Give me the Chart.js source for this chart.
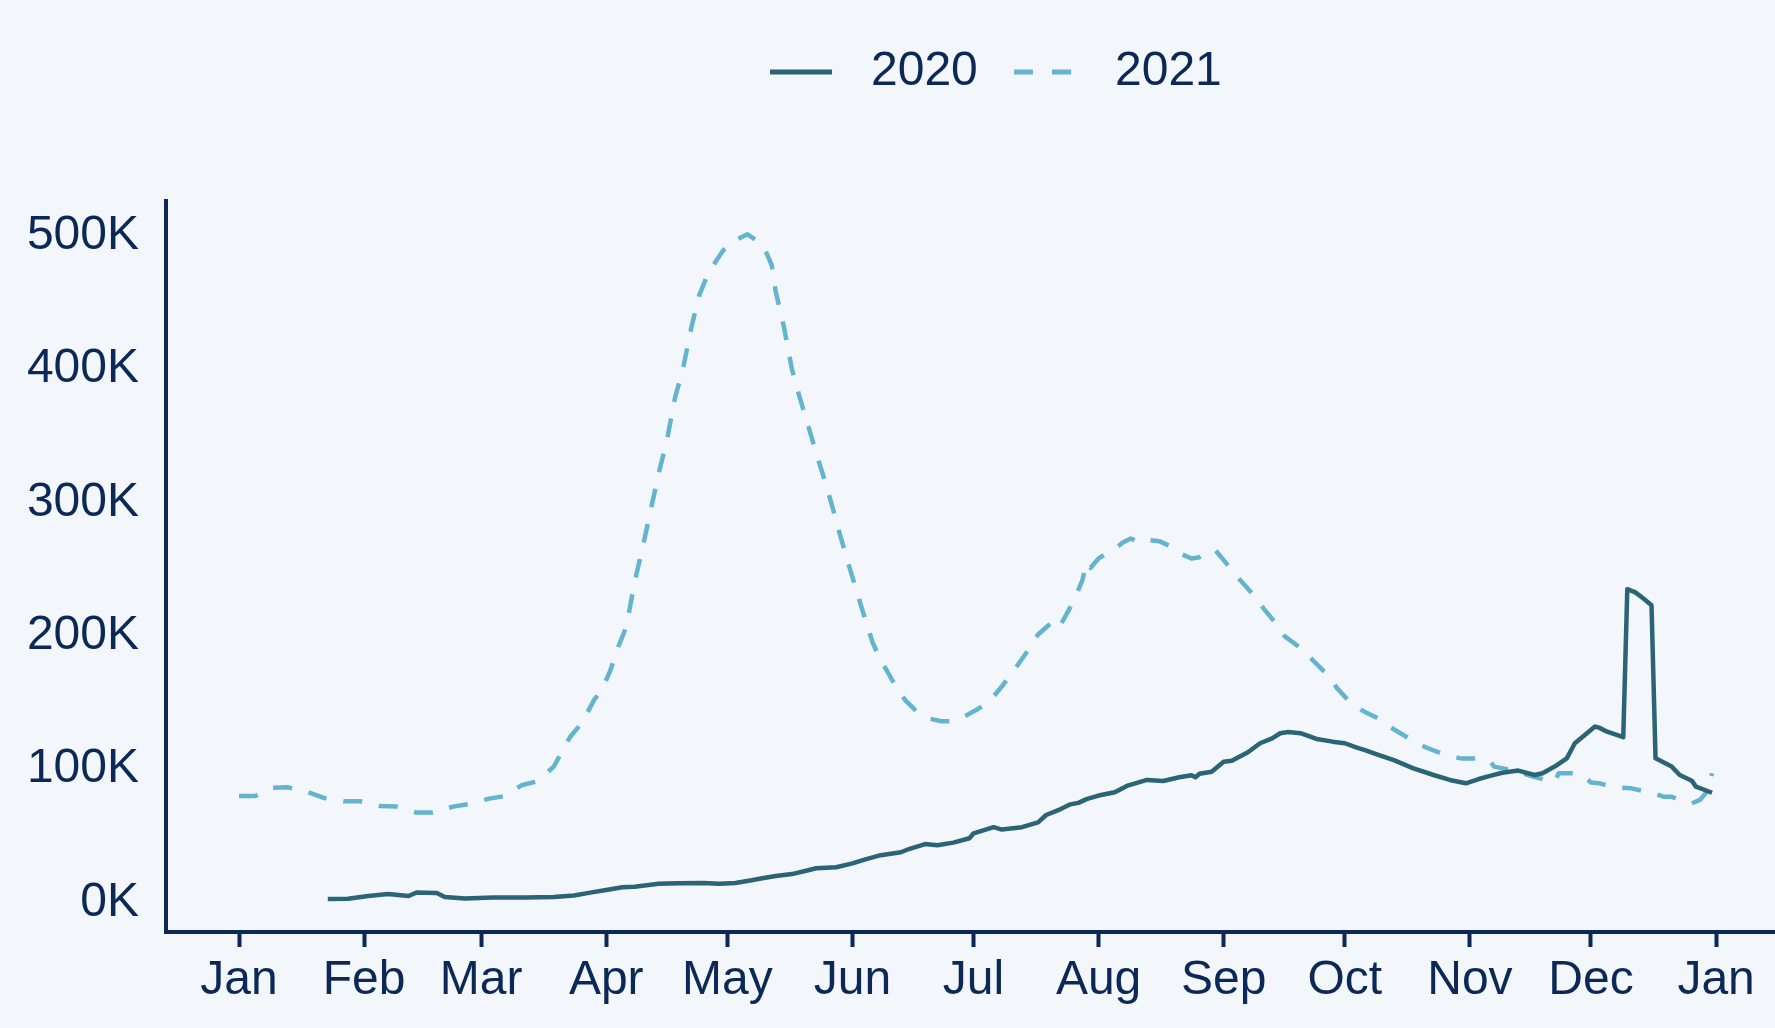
<!DOCTYPE html>
<html>
<head>
<meta charset="utf-8">
<script src="https://cdn.jsdelivr.net/npm/chart.js@4/dist/chart.umd.min.js"></script>
<style>
  html, body { margin: 0; padding: 0; background: #f3f7fc; }
  #wrap { width: 1775px; height: 1028px; }
  canvas { display: block; }
</style>
</head>
<body>
<div id="wrap"><canvas id="c" width="1775" height="1028"></canvas></div>
<script>
// ---- data (day of year, value) ----
const monthTickDays = [0, 31, 60, 91, 121, 152, 182, 213, 244, 274, 305, 335, 366];
const monthTickLabels = ['Jan', 'Feb', 'Mar', 'Apr', 'May', 'Jun', 'Jul', 'Aug', 'Sep', 'Oct', 'Nov', 'Dec', 'Jan'];
const yTickValues = [0, 100000, 200000, 300000, 400000, 500000];
const seriesLabels = ['2020', '2021'];

const days2020 = [22, 27, 32, 37, 42, 44, 49, 51, 56, 63, 71, 78, 83, 87, 91, 95, 98, 104, 109, 115, 119, 123, 127, 130, 133, 137, 140, 143, 148, 152, 155, 159, 164, 166, 170, 173, 177, 181, 182, 187, 189, 194, 198, 200, 203, 206, 208, 210, 213, 217, 220, 225, 229, 233, 236, 237, 238, 241, 244, 246, 250, 253, 256, 258, 260, 263, 267, 271, 274, 277, 279, 283, 286, 291, 296, 300, 304, 307, 310, 313, 317, 321, 323, 326, 329, 331, 334, 336, 337, 339, 343, 344, 346, 348, 350, 351, 355, 357, 360, 361, 365];
const cases2020 = [800, 1000, 3000, 4500, 3000, 5600, 5300, 2300, 1200, 1800, 1800, 2300, 3400, 5500, 7500, 9500, 10000, 12200, 12500, 12800, 12100, 12800, 14800, 16500, 18000, 19400, 21500, 23800, 24500, 27400, 30300, 33600, 35800, 38200, 41900, 41000, 43000, 46300, 49900, 54600, 52800, 54600, 58200, 63700, 67300, 71700, 72800, 75600, 78300, 80800, 85500, 90000, 89200, 92000, 93500, 92000, 94600, 96200, 103700, 104400, 110700, 117500, 121200, 125000, 126000, 125000, 120700, 118700, 117500, 114200, 112400, 108000, 105000, 98700, 93700, 90000, 87500, 90500, 93000, 95400, 97000, 93700, 95000, 100000, 106200, 117500, 125000, 130000, 129200, 126200, 122000, 233000, 230600, 226000, 221000, 106200, 100000, 93700, 89400, 85000, 80400];

const days2021 = [0, 4, 8, 12, 17, 21, 26, 30, 35, 39, 44, 48, 53, 57, 62, 66, 70, 74, 78, 82, 85, 88, 90, 92, 94, 96, 98, 100, 102, 104, 106, 108, 110, 112, 114, 116, 118, 120, 122, 124, 126, 128, 130, 132, 133, 135, 137, 139, 141, 143, 145, 147, 149, 151, 153, 155, 157, 159, 162, 165, 168, 171, 174, 177, 180, 183, 186, 189, 192, 195, 198, 201, 203, 205, 207, 209, 210, 211, 213, 215, 217, 219, 221, 223, 225, 228, 231, 233, 236, 238, 240, 242, 245, 248, 251, 254, 257, 259, 263, 266, 270, 272, 276, 279, 283, 285, 290, 294, 299, 303, 307, 310, 311, 316, 320, 325, 326, 327, 330, 333, 335, 337, 341, 345, 350, 353, 355, 358, 360, 362, 364, 365];
const cases2021 = [78000, 78000, 84000, 84500, 81000, 76500, 74000, 74000, 70500, 70000, 65500, 65500, 70000, 72000, 76000, 78000, 86000, 89000, 100000, 122000, 133000, 150000, 158000, 172000, 190000, 205000, 238000, 264000, 292000, 320000, 344000, 376000, 398000, 428000, 453000, 468000, 478000, 487000, 493000, 496000, 499000, 495000, 490000, 476000, 456000, 430000, 398000, 376000, 356000, 335000, 316000, 295000, 273000, 252000, 232000, 212000, 193000, 180000, 164000, 150000, 141000, 136000, 134000, 134000, 138000, 143000, 149000, 160000, 172000, 185000, 199000, 207000, 203000, 214000, 225000, 240000, 253000, 249000, 256000, 260000, 263000, 268000, 271000, 268000, 270000, 269000, 265000, 260000, 256000, 257000, 261000, 262000, 251000, 240000, 230000, 218000, 207000, 198000, 189000, 180000, 168000, 159000, 146000, 141000, 135000, 130000, 121000, 114500, 108700, 106000, 106000, 104000, 100000, 97000, 93000, 89000, 88500, 95000, 95000, 93500, 88000, 87500, 84500, 83700, 80400, 77400, 77400, 73700, 72500, 75000, 82000, 95000];

// ---- styling ----
const NAVY = '#0b2856';
const C2020 = '#2a6476';
const C2021 = '#64b4d0';
const FONT = "'Liberation Sans', Arial, Helvetica, sans-serif";
const FONT_SIZE = 48;
const LEGEND_BOX = 77;

const toPoints = (xs, ys) => xs.map((x, i) => ({ x: x, y: ys[i] }));

// legend sample: line drawn in the left part of a wider key box
function legendKey(color, dash, len) {
  const c = document.createElement('canvas');
  c.width = LEGEND_BOX; c.height = 10;
  const g = c.getContext('2d');
  g.strokeStyle = color;
  g.lineWidth = 5;
  g.setLineDash(dash);
  g.beginPath();
  g.moveTo(0, 5);
  g.lineTo(len, 5);
  g.stroke();
  return c;
}

const legendShift = {
  id: 'legendShift',
  afterLayout(chart) {
    const l = chart.legend;
    if (!l) return;
    const dx = 25.4, dy = -95;
    l.left += dx; l.right += dx; l.top += dy; l.bottom += dy;
  }
};

new Chart(document.getElementById('c'), {
  type: 'line',
  data: {
    datasets: [
      {
        label: seriesLabels[0],
        data: toPoints(days2020, cases2020),
        borderColor: C2020,
        backgroundColor: C2020,
        borderWidth: 4.5,
        pointRadius: 0,
        tension: 0,
        borderJoinStyle: 'round',
        fill: false
      },
      {
        label: seriesLabels[1],
        data: toPoints(days2021, cases2021),
        borderColor: C2021,
        backgroundColor: C2021,
        borderWidth: 4.5,
        borderDash: [19, 17],
        pointRadius: 0,
        tension: 0,
        borderJoinStyle: 'round',
        fill: false
      }
    ]
  },
  options: {
    responsive: false,
    animation: false,
    events: [],
    layout: { padding: { top: 106.8, left: 0, right: 0, bottom: 0 } },
    plugins: {
      tooltip: { enabled: false },
      legend: {
        position: 'top',
        fullSize: false,
        labels: {
          font: { family: FONT, size: FONT_SIZE },
          color: NAVY,
          usePointStyle: true,
          pointStyleWidth: LEGEND_BOX,
          padding: 36.2,
          generateLabels(chart) {
            const items = Chart.defaults.plugins.legend.labels.generateLabels(chart);
            items.forEach(it => {
              const ds = chart.data.datasets[it.datasetIndex];
              const dashed = !!(ds.borderDash && ds.borderDash.length);
              it.pointStyle = dashed ? legendKey(ds.borderColor, [19, 19], 57) : legendKey(ds.borderColor, [], 62);
              it.fontColor = NAVY;
            });
            return items;
          }
        }
      }
    },
    scales: {
      x: {
        type: 'linear',
        min: -18.09,
        max: 380.6,
        afterBuildTicks(scale) {
          scale.ticks = monthTickDays.map(v => ({ value: v }));
        },
        afterFit(scale) { scale.height = 96; },
        ticks: {
          autoSkip: false,
          maxRotation: 0,
          minRotation: 0,
          padding: 5,
          color: NAVY,
          font: { family: FONT, size: FONT_SIZE },
          callback(value, index) { return monthTickLabels[index]; }
        },
        grid: {
          display: true,
          drawOnChartArea: false,
          drawTicks: true,
          tickLength: 15,
          tickWidth: 4,
          tickColor: NAVY,
          color: NAVY
        },
        border: { display: true, color: NAVY, width: 4 }
      },
      y: {
        type: 'linear',
        min: -24000,
        max: 524000,
        afterBuildTicks(scale) {
          scale.ticks = yTickValues.map(v => ({ value: v }));
        },
        afterFit(scale) { scale.width = 166; },
        ticks: {
          padding: 27,
          labelOffset: 2.5,
          color: NAVY,
          font: { family: FONT, size: FONT_SIZE },
          callback(value) { return Math.round(value / 1000) + 'K'; }
        },
        grid: {
          display: true,
          drawOnChartArea: false,
          drawTicks: false,
          color: NAVY
        },
        border: { display: true, color: NAVY, width: 4 }
      }
    }
  },
  plugins: [legendShift]
});
</script>
</body>
</html>
